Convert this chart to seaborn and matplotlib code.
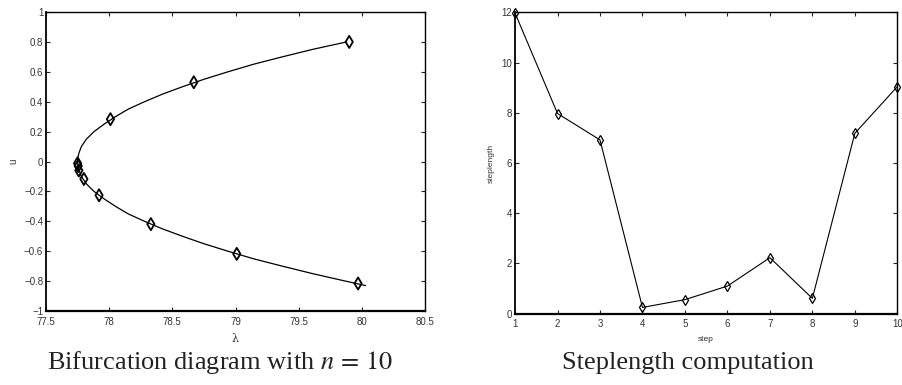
import matplotlib
matplotlib.use("Agg")
import matplotlib.pyplot as plt
import seaborn as sns
import pandas as pd

# ---- data: bifurcation diagram (n = 10) ----
curve_u = [0.80, 0.75, 0.70, 0.65, 0.60, 0.55, 0.50, 0.45, 0.40, 0.35, 0.30, 0.25,
           0.20, 0.15, 0.10, 0.06, 0.03, 0.00, -0.03, -0.06, -0.10, -0.15, -0.20,
           -0.25, -0.30, -0.35, -0.40, -0.45, -0.50, -0.55, -0.60, -0.65, -0.70,
           -0.75, -0.80, -0.83]
curve_lam = [79.88, 79.61, 79.37, 79.14, 78.94, 78.75, 78.58, 78.42, 78.28, 78.15,
             78.05, 77.96, 77.88, 77.82, 77.78, 77.762, 77.753, 77.75, 77.753, 77.762,
             77.78, 77.82, 77.88, 77.96, 78.05, 78.15, 78.28, 78.42, 78.58, 78.75,
             78.94, 79.14, 79.37, 79.61, 79.87, 80.03]
mark_lam = [79.90, 78.67, 78.01, 77.75, 77.755, 77.76, 77.80, 77.92, 78.33, 79.01, 79.97]
mark_u = [0.80, 0.53, 0.283, -0.012, -0.03, -0.06, -0.117, -0.226, -0.419, -0.618, -0.816]

# ---- data: steplength computation ----
steps = [1, 2, 3, 4, 5, 6, 7, 8, 9, 10]
steplength = [11.97, 7.97, 6.92, 0.25, 0.56, 1.10, 2.23, 0.61, 7.18, 9.04]

left_xticks = [77.5, 78, 78.5, 79, 79.5, 80, 80.5]
left_xticklabels = ["77.5", "78", "78.5", "79", "79.5", "80", "80.5"]
left_yticks = [-1, -0.8, -0.6, -0.4, -0.2, 0, 0.2, 0.4, 0.6, 0.8, 1]
left_yticklabels = ["\u22121", "\u22120.8", "\u22120.6", "\u22120.4", "\u22120.2", "0",
                    "0.2", "0.4", "0.6", "0.8", "1"]
right_yticks = [0, 2, 4, 6, 8, 10, 12]

sns.set_style("white")
plt.rcParams["font.family"] = ["Liberation Sans", "DejaVu Sans"]
plt.rcParams["mathtext.fontset"] = "stix"

fig = plt.figure(figsize=(9.02, 3.85), dpi=100)
ax1 = fig.add_axes([0.0510, 0.1922, 0.4202, 0.7766])
ax2 = fig.add_axes([0.5710, 0.1852, 0.4238, 0.7829])

curve_df = pd.DataFrame({"lam": curve_lam, "u": curve_u})
mark_df = pd.DataFrame({"lam": mark_lam, "u": mark_u})
sns.lineplot(data=curve_df, x="lam", y="u", sort=False, estimator=None,
             color="black", linewidth=0.9, ax=ax1)
sns.scatterplot(data=mark_df, x="lam", y="u", marker="d", s=38,
                facecolor="none", edgecolor="black", linewidth=1.3, ax=ax1, zorder=3)

step_df = pd.DataFrame({"step": steps, "len": steplength})
sns.lineplot(data=step_df, x="step", y="len", estimator=None, color="black",
             linewidth=0.8, marker="d", markersize=5.5, markerfacecolor="none",
             markeredgecolor="black", markeredgewidth=0.9, ax=ax2, clip_on=False)

tick_color = "#333333"
for ax in (ax1, ax2):
    for s in ax.spines.values():
        s.set_visible(True)
        s.set_color("black")
        s.set_linewidth(1.0)
    ax.spines["bottom"].set_linewidth(1.6)
    ax.spines["left"].set_linewidth(1.3)
    ax.tick_params(direction="in", length=3, width=0.8, labelsize=7,
                   labelcolor=tick_color, top=True, right=True, bottom=True, left=True,
                   pad=2)

ax1.set_xlim(77.5, 80.5)
ax1.set_ylim(-1, 1)
ax1.set_xticks(left_xticks)
ax1.set_xticklabels(left_xticklabels)
ax1.set_yticks(left_yticks)
ax1.set_yticklabels(left_yticklabels)
ax1.tick_params(axis="x", pad=4)
ax1.set_xlabel("\u03bb", fontsize=8, color=tick_color, labelpad=5,
               family=["DejaVu Serif"])
ax1.set_ylabel("u", fontsize=7, color=tick_color, labelpad=4)

ax2.set_xlim(1, 10)
ax2.set_ylim(0, 12)
ax2.set_xticks(steps)
ax2.set_yticks(right_yticks)
ax2.tick_params(axis="x", pad=4)
ax2.set_xlabel("step", fontsize=6, color=tick_color, labelpad=5)
ax2.set_ylabel("steplength", fontsize=6, color=tick_color, labelpad=5)

fig.text(0.244, 0.058, "Bifurcation diagram with $n\\,=\\,10$", ha="center", va="center",
         fontsize=19, family=["Liberation Serif"], color="#222222")
fig.text(0.763, 0.058, "Steplength computation", ha="center", va="center",
         fontsize=19, family=["Liberation Serif"], color="#222222")

fig.savefig("out.png", dpi=100)
